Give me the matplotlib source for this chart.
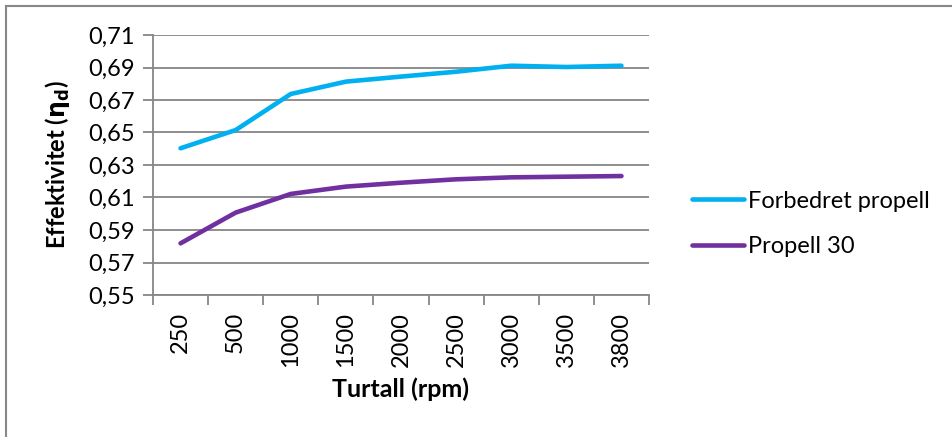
import matplotlib
matplotlib.use("Agg")
import matplotlib.pyplot as plt
from matplotlib.lines import Line2D

plt.rcParams['font.family'] = ['Lato', 'DejaVu Sans']

rpm_labels = ["250", "500", "1000", "1500", "2000", "2500", "3000", "3500", "3800"]
forbedret = [0.6403, 0.6515, 0.6737, 0.6813, 0.6844, 0.6874, 0.6911, 0.6903, 0.6911]
propell30 = [0.5818, 0.6007, 0.6122, 0.6167, 0.6191, 0.6212, 0.6224, 0.6228, 0.6232]
y_ticks = [0.55, 0.57, 0.59, 0.61, 0.63, 0.65, 0.67, 0.69, 0.71]

W, H = 953, 437
fig = plt.figure(figsize=(W / 100, H / 100), dpi=100)
ax = fig.add_axes([153 / W, 1 - 295 / H, (649 - 153) / W, (295 - 35) / H])

grid_col = "#868686"
fs = 17
x = list(range(len(rpm_labels)))
ax.plot(x, forbedret, color="#00B0F0", lw=3.3, solid_capstyle="round",
        solid_joinstyle="round", label="Forbedret propell", zorder=3)
ax.plot(x, propell30, color="#7030A0", lw=3.3, solid_capstyle="round",
        solid_joinstyle="round", label="Propell 30", zorder=3)

ax.set_xlim(-0.5, len(rpm_labels) - 0.5)
ax.set_ylim(0.55, 0.71)
ax.set_yticks(y_ticks)
ax.set_yticklabels([f"{v:.2f}".replace(".", ",") for v in y_ticks], fontsize=fs)
ax.yaxis.grid(True, color=grid_col, lw=1.3)
ax.set_axisbelow(True)

# category boundaries carry the tick marks, labels sit at category centres
ax.set_xticks([i - 0.5 for i in range(len(rpm_labels) + 1)])
ax.set_xticklabels([])
ax.set_xticks(x, minor=True)
ax.set_xticklabels(rpm_labels, minor=True, rotation=90, fontsize=fs)
ax.tick_params(axis="x", which="minor", length=0, pad=12)
ax.tick_params(axis="x", which="major", length=7, width=1.3, color=grid_col)
ax.tick_params(axis="y", length=7, width=1.3, color=grid_col, pad=6)

for s in ["top", "right"]:
    ax.spines[s].set_visible(False)
for s in ["left", "bottom"]:
    ax.spines[s].set_color(grid_col)
    ax.spines[s].set_linewidth(1.3)

ax.set_ylabel(r"Effektivitet ($\mathbf{\eta_d}$)", fontsize=17, fontweight="bold", labelpad=12)
ax.set_xlabel("Turtall (rpm)", fontsize=18, fontweight="bold", labelpad=8)

fig.legend(handles=ax.get_lines(), loc="center left",
           bbox_to_anchor=(671 / W, 1 - 224 / H), frameon=False, fontsize=fs,
           handlelength=2.2, handletextpad=0.15, labelspacing=1.05)

# chart area border
fig.add_artist(Line2D([6 / W, 6 / W], [0, 1 - 6 / H], color="#888888", lw=1.5))
fig.add_artist(Line2D([6 / W, 1], [1 - 6 / H, 1 - 6 / H], color="#888888", lw=1.5))

fig.savefig("out.png", dpi=100)
